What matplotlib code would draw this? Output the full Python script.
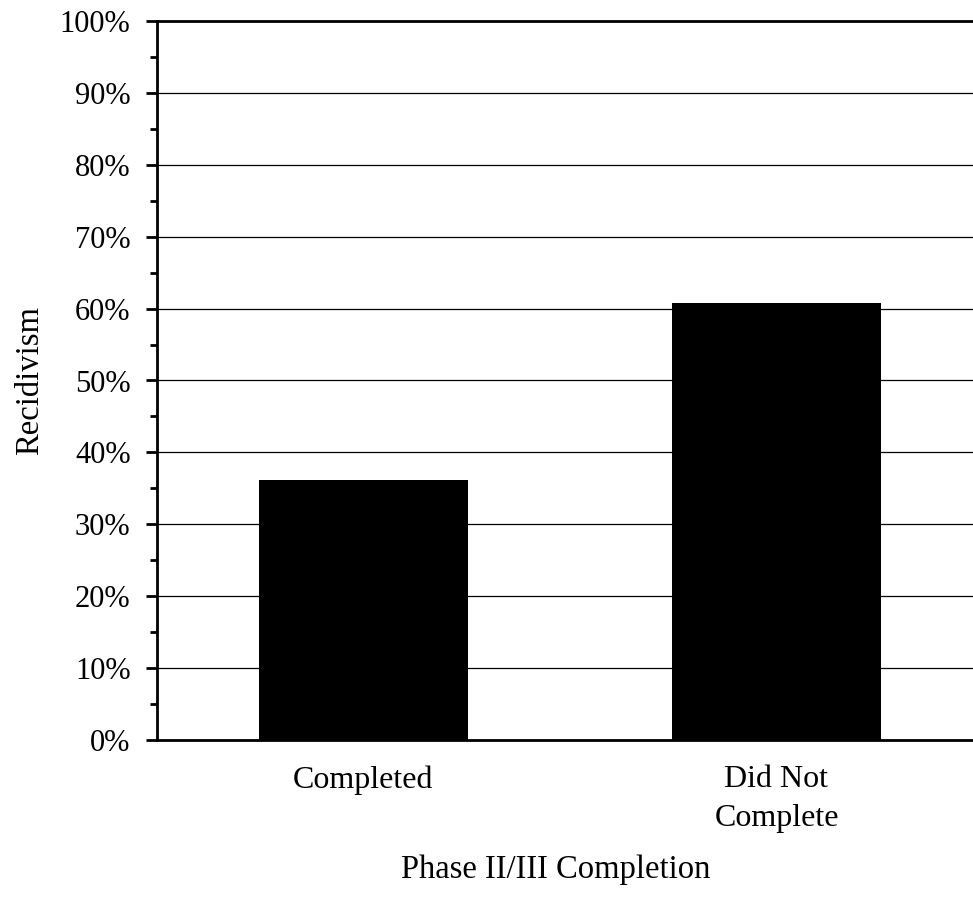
import matplotlib
matplotlib.use("Agg")
import matplotlib.pyplot as plt
from matplotlib.ticker import MultipleLocator, PercentFormatter

categories = ["Completed", "Did Not\nComplete"]
values = [36.2, 60.8]
y_ticks = [0, 10, 20, 30, 40, 50, 60, 70, 80, 90, 100]

plt.rcParams['font.family'] = ['Liberation Serif', 'DejaVu Serif']

fig = plt.figure(figsize=(9.73, 9.13), dpi=100)
ax = fig.add_axes([157/973, 173/913, 826/973, 719/913])

x = list(range(len(categories)))
ax.bar(x, values, width=0.506, color='black', zorder=3)
ax.set_xlim(-0.5, 1.5)
ax.set_ylim(0, 100)
ax.set_yticks(y_ticks)
ax.yaxis.set_minor_locator(MultipleLocator(5))
ax.yaxis.set_major_formatter(PercentFormatter(decimals=0))
ax.set_xticks(x)
ax.set_xticklabels(categories, fontsize=23, linespacing=1.45, va='top')
ax.tick_params(axis='y', which='major', labelsize=22, length=8, width=2, direction='out', pad=11)
ax.tick_params(axis='y', which='minor', length=5, width=2, direction='out')
ax.tick_params(axis='x', length=0, pad=18)
ax.grid(axis='y', color='black', linewidth=0.9, zorder=0)
for s in ['left', 'bottom', 'top']:
    ax.spines[s].set_linewidth(2)
ax.spines['right'].set_visible(False)
ax.set_ylabel('Recidivism', fontsize=23.5, va='center')
ax.yaxis.set_label_coords(-(157-30)/826, 0.5)
ax.set_xlabel('Phase II/III Completion', fontsize=23.5, va='center')
ax.xaxis.set_label_coords((556-157)/826, -(870-740)/719)

fig.savefig('out.png', dpi=100)
